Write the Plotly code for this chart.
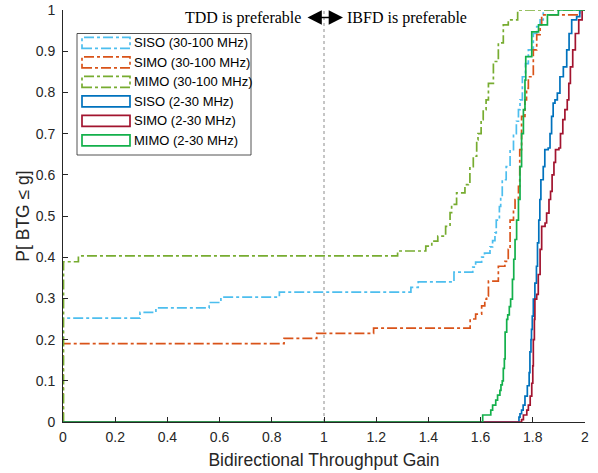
import plotly.graph_objects as go

# ---------------- data ----------------
series_names = ["SISO (30-100 MHz)", "SIMO (30-100 MHz)", "MIMO (30-100 MHz)",
                "SISO (2-30 MHz)", "SIMO (2-30 MHz)", "MIMO (2-30 MHz)"]
series_colors = ["#4DBEEE", "#D95319", "#77AC30", "#0072BD", "#A2142F", "#13B04B"]
series_dashed = [True, True, True, False, False, False]

siso_hf_x = [0, 0, 0.295, 0.356, 0.56, 0.605, 0.829, 1.333, 1.361, 1.498, 1.57, 1.581, 1.604, 1.615,
             1.636, 1.646, 1.655, 1.66, 1.672, 1.677, 1.683, 1.698, 1.713, 1.726, 1.737, 1.745, 1.751,
             1.76, 1.772, 1.783, 1.802, 1.815, 1.828, 1.84, 2.0]
siso_hf_y = [0, 0.252, 0.266, 0.277, 0.29, 0.303, 0.315, 0.327, 0.34, 0.364, 0.376, 0.388, 0.40, 0.41,
             0.425, 0.44, 0.459, 0.49, 0.523, 0.55, 0.588, 0.62, 0.661, 0.70, 0.73, 0.758, 0.782,
             0.838, 0.87, 0.903, 0.943, 0.96, 0.976, 1.0, 1.0]

simo_hf_x = [0, 0, 0.847, 0.972, 1.19, 1.56, 1.581, 1.604, 1.616, 1.623, 1.63, 1.668, 1.693, 1.706,
             1.713, 1.726, 1.732, 1.745, 1.75, 1.757, 1.77, 1.776, 1.783, 1.802, 1.815, 1.828, 1.834,
             1.98, 2.0]
simo_hf_y = [0, 0.19, 0.203, 0.215, 0.228, 0.25, 0.262, 0.282, 0.298, 0.306, 0.342, 0.378, 0.39, 0.419,
             0.49, 0.516, 0.54, 0.572, 0.661, 0.742, 0.782, 0.81, 0.838, 0.903, 0.94, 0.964, 0.988,
             1.0, 1.0]

mimo_hf_x = [0, 0.002, 0.059, 1.282, 1.39, 1.413, 1.436, 1.466, 1.483, 1.489, 1.508, 1.54, 1.553,
             1.559, 1.572, 1.585, 1.59, 1.602, 1.61, 1.621, 1.63, 1.649, 1.668, 1.687, 1.706, 1.742, 2.0]
mimo_hf_y = [0, 0.389, 0.403, 0.415, 0.427, 0.439, 0.451, 0.475, 0.508, 0.528, 0.556, 0.576, 0.58,
             0.62, 0.645, 0.685, 0.70, 0.734, 0.758, 0.782, 0.822, 0.875, 0.92, 0.964, 0.976, 1.0, 1.0]

siso_lf_x = [0, 1.747, 1.751, 1.757, 1.763, 1.770, 1.779, 1.786, 1.789, 1.793, 1.795, 1.798, 1.802,
             1.808, 1.814, 1.818, 1.823, 1.827, 1.831, 1.84, 1.846, 1.859, 1.866, 1.872, 1.878, 1.885,
             1.894, 1.904, 1.917, 1.93, 1.939, 1.949, 1.968, 1.98, 2.0]
siso_lf_y = [0, 0.012, 0.02, 0.029, 0.041, 0.063, 0.088, 0.12, 0.17, 0.2, 0.225, 0.257, 0.298,
             0.337, 0.378, 0.435, 0.49, 0.54, 0.588, 0.62, 0.661, 0.665, 0.70, 0.742, 0.774, 0.782,
             0.798, 0.838, 0.862, 0.903, 0.943, 0.976, 0.984, 1.0, 1.0]

simo_lf_x = [0, 1.757, 1.764, 1.777, 1.783, 1.79, 1.796, 1.80, 1.802, 1.806, 1.808, 1.815, 1.821,
             1.828, 1.834, 1.847, 1.853, 1.862, 1.868, 1.874, 1.881, 1.887, 1.90, 1.906, 1.915, 1.923,
             1.932, 1.938, 1.944, 1.953, 1.963, 1.976, 1.989, 2.0]
simo_lf_y = [0, 0.006, 0.017, 0.029, 0.041, 0.063, 0.094, 0.136, 0.2, 0.249, 0.298, 0.31, 0.358,
             0.419, 0.475, 0.483, 0.507, 0.54, 0.56, 0.6, 0.63, 0.661, 0.665, 0.70, 0.734, 0.758,
             0.782, 0.822, 0.862, 0.903, 0.943, 0.976, 1.0, 1.0]

mimo_lf_x = [0, 1.608, 1.639, 1.646, 1.658, 1.665, 1.674, 1.678, 1.683, 1.687, 1.691, 1.694, 1.70,
             1.704, 1.71, 1.715, 1.722, 1.727, 1.732, 1.738, 1.745, 1.751, 1.757, 1.764, 1.77, 1.773,
             1.796, 1.822, 1.856, 1.898, 2.0]
mimo_lf_y = [0, 0.017, 0.029, 0.041, 0.053, 0.065, 0.077, 0.09, 0.10, 0.13, 0.153, 0.218, 0.249,
             0.26, 0.28, 0.298, 0.346, 0.395, 0.443, 0.49, 0.54, 0.62, 0.70, 0.758, 0.83, 0.887,
             0.947, 0.964, 0.988, 1.0, 1.0]

x_tick_vals = [0, 0.2, 0.4, 0.6, 0.8, 1, 1.2, 1.4, 1.6, 1.8, 2]
x_tick_text = ["0", "0.2", "0.4", "0.6", "0.8", "1", "1.2", "1.4", "1.6", "1.8", "2"]
y_tick_vals = [0, 0.1, 0.2, 0.3, 0.4, 0.5, 0.6, 0.7, 0.8, 0.9, 1]
y_tick_text = ["0", "0.1", "0.2", "0.3", "0.4", "0.5", "0.6", "0.7", "0.8", "0.9", "1"]

x_label = "Bidirectional Throughput Gain"
y_label = "P[ BTG \u2264 g]"
left_note = "TDD is preferable"
right_note = "IBFD is preferable"
boundary_x = 1

# ---------------- layout helpers ----------------
W, H = 598, 473
PLOT_L, PLOT_R, PLOT_T, PLOT_B = 63, 585, 10, 422     # pixels of the axes box
ML, MR, MT, MB = PLOT_L, W - PLOT_R, PLOT_T, H - PLOT_B
PW, PH = PLOT_R - PLOT_L, PLOT_B - PLOT_T
DASHDOT = "10px,3px,3px,3px"
AX = "#262626"
SANS = "Liberation Sans, Arial, sans-serif"
SERIF = "Liberation Serif, Times New Roman, serif"


def px(xp):
    return (xp - PLOT_L) / PW


def py(yp):
    return (PLOT_B - yp) / PH


all_x = [siso_hf_x, simo_hf_x, mimo_hf_x, siso_lf_x, simo_lf_x, mimo_lf_x]
all_y = [siso_hf_y, simo_hf_y, mimo_hf_y, siso_lf_y, simo_lf_y, mimo_lf_y]

fig = go.Figure()
for xs, ys, name, col, dd in zip(all_x, all_y, series_names, series_colors, series_dashed):
    fig.add_trace(go.Scatter(
        x=xs, y=ys, name=name, mode="lines", line_shape="hv",
        line=dict(color=col, width=1.7, dash=DASHDOT if dd else "solid"),
        showlegend=False, cliponaxis=True))

shapes = []
# boundary dotted line
shapes.append(dict(type="line", xref="x", yref="y", x0=boundary_x, x1=boundary_x, y0=0, y1=1,
                   line=dict(color="#8c8c8c", width=1, dash="dot"), layer="below"))

# custom legend (MATLAB-style rectangle icons)
leg_left, leg_right, leg_top, leg_bot = 77, 251, 33.5, 155
shapes.append(dict(type="rect", xref="paper", yref="paper",
                   x0=px(leg_left), x1=px(leg_right), y0=py(leg_bot), y1=py(leg_top),
                   fillcolor="white", line=dict(color=AX, width=0.8), layer="above"))
row_centers = [42.8, 62.3, 81.9, 101.4, 120.9, 140.4]
annotations = []
for rc, name, col, dd in zip(row_centers, series_names, series_colors, series_dashed):
    shapes.append(dict(type="rect", xref="paper", yref="paper",
                       x0=px(82), x1=px(130), y0=py(rc + 5.5), y1=py(rc - 5.5),
                       line=dict(color=col, width=1.7, dash=DASHDOT if dd else "solid"),
                       fillcolor="rgba(0,0,0,0)", layer="above"))
    annotations.append(dict(text=name, xref="paper", yref="paper", x=px(131.5), y=py(rc),
                            xanchor="left", yanchor="middle", showarrow=False,
                            font=dict(family=SANS, size=13, color="black")))

# top notes with double arrow
note_y = py(17.5)
annotations.append(dict(text=left_note, xref="paper", yref="paper", x=px(303), y=note_y,
                        xanchor="right", yanchor="middle", showarrow=False,
                        font=dict(family=SERIF, size=16, color="black")))
annotations.append(dict(text=right_note, xref="paper", yref="paper", x=px(345), y=note_y,
                        xanchor="left", yanchor="middle", showarrow=False,
                        font=dict(family=SERIF, size=16, color="black")))
annotations.append(dict(text="", xref="paper", yref="paper", x=px(343), y=note_y,
                        axref="pixel", ayref="pixel", ax=-37, ay=0,
                        showarrow=True, arrowhead=2, startarrowhead=2, arrowside="end+start",
                        arrowsize=2.2, startarrowsize=2.2, arrowwidth=1.3, arrowcolor="black"))

fig.update_layout(
    width=W, height=H, margin=dict(l=ML, r=MR, t=MT, b=MB, autoexpand=False),
    plot_bgcolor="white", paper_bgcolor="white",
    shapes=shapes, annotations=annotations,
    font=dict(family=SANS, size=14, color=AX),
)
fig.update_xaxes(range=[0, 2], tickvals=x_tick_vals, ticktext=x_tick_text, automargin=False,
                 ticks="inside", ticklen=5, tickwidth=1, tickcolor=AX,
                 showline=True, linecolor=AX, linewidth=1, showgrid=False, zeroline=False,
                 tickfont=dict(family=SANS, size=14, color=AX), ticklabelstandoff=2,
                 ticklabeloverflow="allow",
                 title=dict(text=x_label, font=dict(family=SANS, size=17.5, color=AX), standoff=9))
fig.update_yaxes(range=[0, 1], tickvals=y_tick_vals, ticktext=y_tick_text, automargin=False,
                 ticks="inside", ticklen=5, tickwidth=1, tickcolor=AX,
                 showline=True, linecolor=AX, linewidth=1, showgrid=False, zeroline=False,
                 tickfont=dict(family=SANS, size=14, color=AX), ticklabelstandoff=4,
                 ticklabeloverflow="allow",
                 title=dict(text=y_label, font=dict(family=SANS, size=17.5, color=AX), standoff=1))

# remove the default page margin so the figure sits at the window origin
fig.write_html("out.html",
               config={"displayModeBar": False, "staticPlot": True},
               post_script="document.body.style.margin='0';document.body.style.padding='0';")
